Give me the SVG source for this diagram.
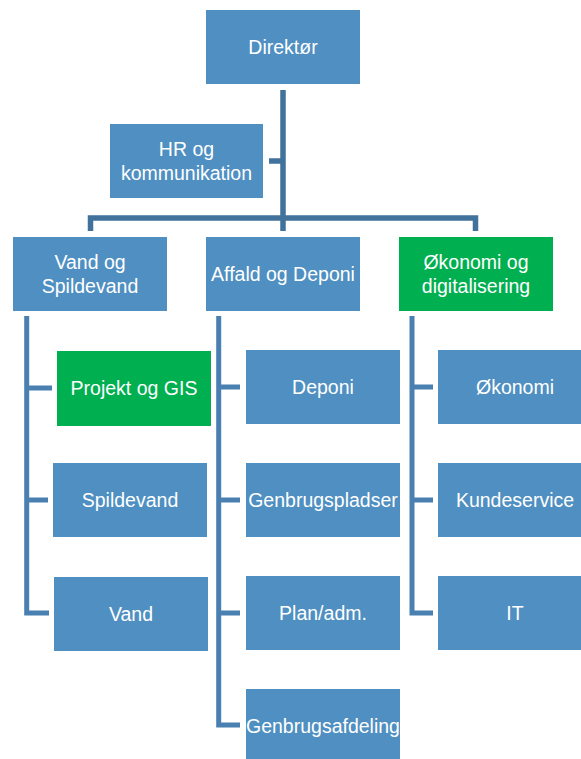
<svg xmlns="http://www.w3.org/2000/svg" width="581" height="759" viewBox="0 0 581 759">
<style>
.b{fill:#4F8FC1}
.g{fill:#00AF50}
.t{font-family:"Liberation Sans",Arial,sans-serif;font-size:19.5px;fill:#FFFFFF;text-anchor:middle}
.c1{fill:none;stroke:#40729C;stroke-width:5.5}
.c2{fill:none;stroke:#4A7FB1;stroke-width:5}
</style>
<rect width="581" height="759" fill="#FFFFFF"/>
<g id="connectors">
<path class="c1" d="M283 90V231M269 161H283M90.5 231V218H475.5V231"/>
<path class="c2" d="M26.7 316V613H49M26.7 388H52M26.7 500H48"/>
<path class="c2" d="M218.7 316V725H240M218.7 387H240M218.7 500H240M218.7 613H240"/>
<path class="c2" d="M412 316V613H433M412 387H433M412 500H433"/>
</g>
<g id="direktor"><rect class="b" x="206" y="10" width="154" height="74"/><text class="t" x="283" y="54">Direktør</text></g>
<g id="hr"><rect class="b" x="110" y="124" width="153" height="74"/><text class="t" x="186.5" y="156">HR og</text><text class="t" x="186.5" y="180">kommunikation</text></g>
<g id="vand-og-spildevand"><rect class="b" x="13" y="237" width="154" height="74"/><text class="t" x="90" y="269">Vand og</text><text class="t" x="90" y="293">Spildevand</text></g>
<g id="affald-og-deponi"><rect class="b" x="206" y="237" width="154" height="74"/><text class="t" x="283" y="281">Affald og Deponi</text></g>
<g id="okonomi-og-digitalisering"><rect class="g" x="399" y="237" width="154" height="74"/><text class="t" x="476" y="269">Økonomi og</text><text class="t" x="476" y="293">digitalisering</text></g>
<g id="projekt-og-gis"><rect class="g" x="57" y="351" width="154" height="75"/><text class="t" x="134" y="395">Projekt og GIS</text></g>
<g id="spildevand"><rect class="b" x="53" y="463" width="154" height="74"/><text class="t" x="130" y="507">Spildevand</text></g>
<g id="vand"><rect class="b" x="54" y="577" width="154" height="74"/><text class="t" x="131" y="621">Vand</text></g>
<g id="deponi"><rect class="b" x="246" y="350" width="154" height="74"/><text class="t" x="323" y="394">Deponi</text></g>
<g id="genbrugspladser"><rect class="b" x="246" y="463" width="154" height="74"/><text class="t" x="323" y="507">Genbrugspladser</text></g>
<g id="plan-adm"><rect class="b" x="246" y="576" width="154" height="74"/><text class="t" x="323" y="620">Plan/adm.</text></g>
<g id="genbrugsafdeling"><rect class="b" x="246" y="689" width="154" height="74"/><text class="t" x="323" y="733">Genbrugsafdeling</text></g>
<g id="okonomi"><rect class="b" x="438" y="350" width="154" height="74"/><text class="t" x="515" y="394">Økonomi</text></g>
<g id="kundeservice"><rect class="b" x="438" y="463" width="154" height="74"/><text class="t" x="515" y="507">Kundeservice</text></g>
<g id="it"><rect class="b" x="438" y="576" width="154" height="74"/><text class="t" x="515" y="620">IT</text></g>
</svg>
